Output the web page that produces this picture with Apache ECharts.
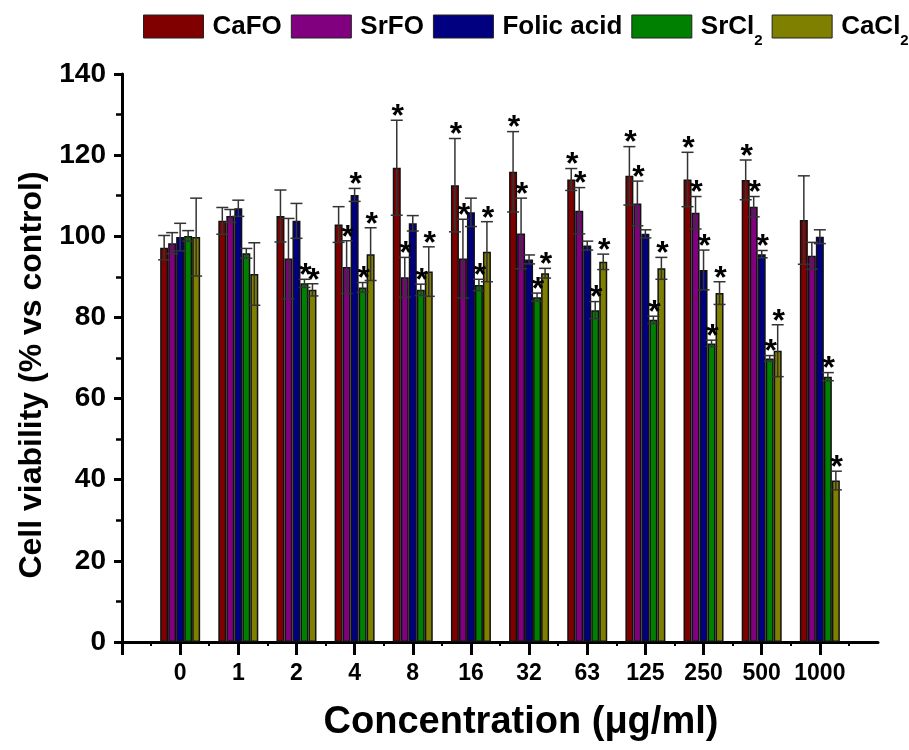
<!DOCTYPE html>
<html>
<head>
<meta charset="utf-8">
<script src="https://cdn.jsdelivr.net/npm/echarts@6/dist/echarts.min.js"></script>
<style>
html,body{margin:0;padding:0;background:#fff;}
#chart{width:909px;height:750px;}
</style>
</head>
<body>
<div id="chart"></div>
<script>
// ---- data ----
const categories = ['0','1','2','4','8','16','32','63','125','250','500','1000'];
const seriesNames = ['CaFO','SrFO','Folic acid','SrCl2','CaCl2'];
const seriesColors = ['#800000','#800080','#000080','#008000','#808000'];

const cafo     = [97.2,103.8,105.0,102.9,116.9,112.6,115.9,114.0,114.9,114.0,113.9,104.0];
const cafoErr  = [3.0,3.3,6.4,4.4,11.7,11.5,9.9,2.7,7.2,6.7,4.9,10.9];
const cafoSig  = [0,0,0,0,1,1,1,1,1,1,1,0];

const srfo     = [98.3,105.0,94.5,92.4,89.9,94.5,100.7,106.3,108.1,105.8,107.3,95.2];
const srfoErr  = [2.6,1.6,9.9,6.5,4.9,9.7,8.7,5.7,5.5,4.0,2.5,3.3];
const srfoSig  = [0,0,0,1,1,1,1,1,1,1,1,0];

const folic    = [99.8,106.9,103.8,110.2,103.2,105.9,94.3,97.7,100.6,91.7,95.6,99.9];
const folicErr = [3.4,2.0,4.3,1.6,1.9,3.5,1.1,1.1,1.0,4.9,0.9,1.7];
const folicSig = [0,0,0,1,0,0,0,0,0,1,1,0];

const srcl2    = [100.1,95.8,88.4,87.4,86.8,88.0,85.0,81.8,79.4,73.6,69.9,65.4];
const srcl2Err = [1.3,1.2,1.0,1.2,1.4,1.4,1.0,2.1,0.9,0.8,0.7,1.0];
const srcl2Sig = [0,0,1,1,1,1,1,1,1,1,1,1];

const cacl2    = [99.8,90.7,86.8,95.6,91.3,96.2,90.9,93.7,92.1,86.0,71.8,39.8];
const cacl2Err = [9.6,7.7,1.5,6.5,6.1,7.4,1.2,1.9,2.7,2.8,6.4,2.3];
const cacl2Sig = [0,0,1,1,1,1,1,1,1,1,1,1];

const yTicks = [0,20,40,60,80,100,120,140];

// ---- build ----
const allVals = [cafo, srfo, folic, srcl2, cacl2];
const allErr  = [cafoErr, srfoErr, folicErr, srcl2Err, cacl2Err];
const allSig  = [cafoSig, srfoSig, folicSig, srcl2Sig, cacl2Sig];

const axisCats = [''].concat(categories).concat(['']);
const FONT = '"Liberation Sans", Arial, sans-serif';
const BAR_W = 8;

const series = [];
allVals.forEach(function (vals, i) {
  series.push({
    name: seriesNames[i],
    type: 'bar',
    data: ['-'].concat(vals).concat(['-']),
    barWidth: BAR_W,
    barGap: '0%',
    itemStyle: { color: seriesColors[i], borderColor: '#111', borderWidth: 1.5 },
    z: 2
  });
});
allVals.forEach(function (vals, i) {
  const offset = (i - 2) * BAR_W;
  series.push({
    type: 'custom',
    name: seriesNames[i],
    z: 4,
    silent: true,
    encode: { x: 0, y: 1 },
    data: vals.map(function (v, k) { return [k + 1, v, allErr[i][k], allSig[i][k]]; }),
    renderItem: function (params, api) {
      const idx = api.value(0), v = api.value(1), e = api.value(2), s = api.value(3);
      const top = api.coord([idx, v + e]);
      const bot = api.coord([idx, v - e]);
      const x = top[0] + offset;
      const ls = { stroke: '#333', lineWidth: 1.5 };
      const cap = 6;
      const children = [
        { type: 'line', shape: { x1: x, y1: top[1], x2: x, y2: bot[1] }, style: ls },
        { type: 'line', shape: { x1: x - cap, y1: top[1], x2: x + cap, y2: top[1] }, style: ls },
        { type: 'line', shape: { x1: x - cap, y1: bot[1], x2: x + cap, y2: bot[1] }, style: ls }
      ];
      if (s) {
        children.push({
          type: 'text',
          style: { text: '*', x: x + 1, y: top[1] - 3, fill: '#000',
                   font: 'bold 32px ' + FONT, align: 'center', verticalAlign: 'middle' }
        });
      }
      return { type: 'group', children: children };
    }
  });
});

const chart = echarts.init(document.getElementById('chart'), null, { renderer: 'canvas' });
chart.setOption({
  animation: false,
  backgroundColor: '#fff',
  legend: {
    data: seriesNames,
    left: 143,
    top: 5,
    width: 766,
    padding: 0,
    itemWidth: 60,
    itemHeight: 23,
    itemGap: 9,
    icon: 'rect',
    itemStyle: { borderColor: '#222', borderWidth: 1 },
    formatter: function (name) { return name.replace(/Cl2$/, 'Cl{s|2}'); },
    textStyle: {
      fontFamily: FONT, fontWeight: 'bold', fontSize: 26, color: '#000',
      padding: [0, 0, 0, 4],
      rich: {
        s: { fontFamily: FONT, fontWeight: 'bold', fontSize: 15, color: '#000', lineHeight: 15, padding: [28, 0, 0, 0] }
      }
    }
  },
  grid: { left: 122, right: 31, top: 74, bottom: 108, containLabel: false },
  xAxis: [{
    type: 'category',
    data: axisCats,
    boundaryGap: false,
    position: 'bottom',
    axisLine: { lineStyle: { color: '#000', width: 3 } },
    axisTick: { show: true, length: 13, lineStyle: { color: '#000', width: 3 },
                interval: function (idx) { return idx !== axisCats.length - 1; } },
    axisLabel: { interval: 0, margin: 20, color: '#000', fontFamily: FONT, fontWeight: 'bold', fontSize: 23 },
    splitLine: { show: false },
    name: 'Concentration (\u03bcg/ml)',
    nameLocation: 'middle',
    nameGap: 62,
    nameTextStyle: { fontFamily: FONT, fontWeight: 'bold', fontSize: 38, color: '#000', padding: [0, 0, 0, 42] }
  }, {
    type: 'value',
    min: 0, max: axisCats.length - 1, interval: 1,
    position: 'bottom',
    axisLine: { show: false, onZero: false },
    axisTick: { show: false },
    axisLabel: { show: false },
    splitLine: { show: false },
    minorTick: { show: true, splitNumber: 2, length: 4, lineStyle: { color: '#000', width: 2 } }
  }],
  yAxis: {
    type: 'value',
    min: yTicks[0], max: yTicks[yTicks.length - 1], interval: 20,
    axisLine: { show: true, lineStyle: { color: '#000', width: 3 } },
    axisTick: { show: true, length: 8, lineStyle: { color: '#000', width: 3 } },
    minorTick: { show: true, splitNumber: 2, length: 6, lineStyle: { color: '#000', width: 2.5 } },
    splitLine: { show: false },
    axisLabel: { margin: 16, color: '#000', fontFamily: FONT, fontWeight: 'bold', fontSize: 28 },
    name: 'Cell viability (% vs control)',
    nameLocation: 'middle',
    nameGap: 74,
    nameTextStyle: { fontFamily: FONT, fontWeight: 'bold', fontSize: 32, color: '#000', padding: [0, 34, 0, 0] }
  },
  series: series
});
</script>
</body>
</html>
